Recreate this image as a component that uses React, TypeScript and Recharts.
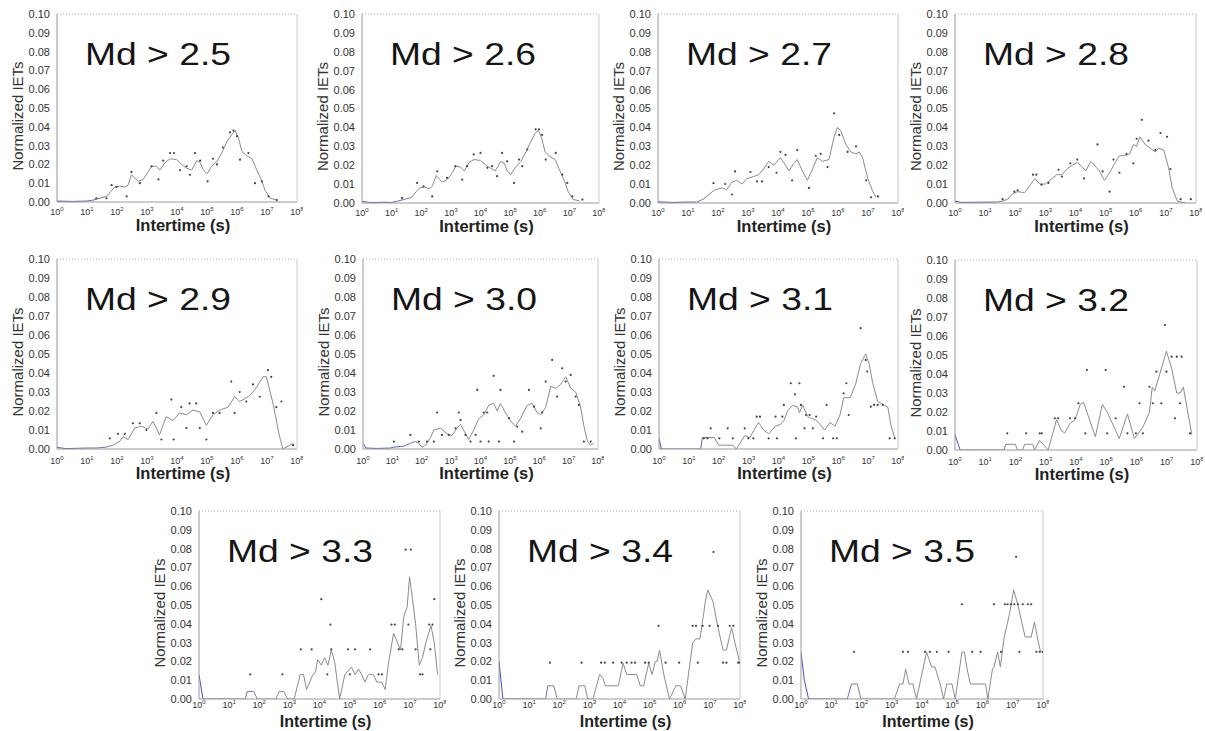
import { ComposedChart, Line, ReferenceLine, Scatter, XAxis, YAxis } from "recharts";

type Pair = [number, number];

const FONT = "'Liberation Sans', Arial, Helvetica, sans-serif";

// x values are log10 of the intertime in seconds (0 -> 10^0 s, 8 -> 10^8 s)
const X_TICKS = [0, 1, 2, 3, 4, 5, 6, 7, 8];
const Y_TICKS = [0, 0.01, 0.02, 0.03, 0.04, 0.05, 0.06, 0.07, 0.08, 0.09, 0.1];

const TITLES = [
  "Md > 2.5", "Md > 2.6", "Md > 2.7", "Md > 2.8",
  "Md > 2.9", "Md > 3.0", "Md > 3.1", "Md > 3.2",
  "Md > 3.3", "Md > 3.4", "Md > 3.5",
];

// smoothed curve per magnitude threshold
const LINE_25: Pair[] = [
  [0, 0.0005], [0.5, 0.0003], [1, 0.0005], [1.2, 0.001], [1.43, 0.002], [1.65, 0.003], [1.82, 0.006],
  [1.93, 0.008], [2.09, 0.0085], [2.26, 0.008], [2.37, 0.009], [2.48, 0.0145], [2.71, 0.011], [2.87, 0.012],
  [3.04, 0.016], [3.15, 0.019], [3.32, 0.019], [3.43, 0.017], [3.6, 0.021], [3.77, 0.023], [3.99, 0.0225],
  [4.16, 0.02], [4.32, 0.018], [4.49, 0.017], [4.66, 0.022], [4.77, 0.021], [4.88, 0.017], [5.0, 0.015],
  [5.16, 0.019], [5.35, 0.022], [5.49, 0.026], [5.66, 0.032], [5.83, 0.036], [5.94, 0.038], [6.05, 0.034],
  [6.16, 0.027], [6.33, 0.0245], [6.5, 0.023], [6.66, 0.017], [6.83, 0.011], [6.94, 0.006], [7.11, 0.002],
  [7.33, 0.001],
];
const LINE_26: Pair[] = [
  [0, 0.0008], [0.3, 0.0002], [0.7, 0.0004], [1, 0.0003], [1.2, 0.001], [1.45, 0.002], [1.67, 0.003],
  [1.83, 0.006], [1.95, 0.008], [2.1, 0.0085], [2.27, 0.0075], [2.38, 0.009], [2.5, 0.0145], [2.72, 0.011],
  [2.88, 0.0125], [3.05, 0.016], [3.17, 0.0195], [3.33, 0.019], [3.45, 0.017], [3.62, 0.0215], [3.78, 0.023],
  [4.0, 0.0225], [4.18, 0.02], [4.34, 0.0185], [4.5, 0.017], [4.68, 0.022], [4.8, 0.021], [4.9, 0.017],
  [5.02, 0.015], [5.18, 0.019], [5.36, 0.022], [5.5, 0.026], [5.68, 0.032], [5.85, 0.037], [5.96, 0.0385],
  [6.07, 0.034], [6.18, 0.027], [6.35, 0.0245], [6.52, 0.023], [6.68, 0.017], [6.85, 0.011], [6.96, 0.006],
  [7.12, 0.002], [7.35, 0.001],
];
const LINE_27: Pair[] = [
  [0, 0.0006], [0.5, 0.0003], [1, 0.0005], [1.29, 0.0005], [1.51, 0.002], [1.73, 0.005], [1.9, 0.007],
  [2.13, 0.008], [2.29, 0.007], [2.46, 0.011], [2.63, 0.012], [2.8, 0.01], [2.96, 0.013], [3.19, 0.014],
  [3.36, 0.015], [3.52, 0.018], [3.69, 0.022], [3.86, 0.02], [4.08, 0.024], [4.25, 0.02], [4.36, 0.017],
  [4.53, 0.021], [4.64, 0.023], [4.81, 0.017], [4.98, 0.012], [5.15, 0.018], [5.31, 0.024], [5.48, 0.022],
  [5.7, 0.023], [5.87, 0.035], [5.98, 0.04], [6.1, 0.038], [6.26, 0.031], [6.43, 0.027], [6.6, 0.026],
  [6.71, 0.027], [6.82, 0.024], [6.99, 0.013], [7.16, 0.006], [7.27, 0.003],
];
const LINE_28: Pair[] = [
  [0, 0.001], [0.2, 0.0003], [0.7, 0.0004], [1.2, 0.0005], [1.41, 0.0005], [1.58, 0.001], [1.75, 0.002],
  [1.92, 0.005], [2.08, 0.006], [2.31, 0.0055], [2.48, 0.009], [2.65, 0.013], [2.82, 0.01], [2.99, 0.01],
  [3.15, 0.012], [3.38, 0.015], [3.55, 0.015], [3.72, 0.018], [3.89, 0.02], [4.06, 0.0215], [4.23, 0.019],
  [4.34, 0.017], [4.51, 0.022], [4.68, 0.019], [4.79, 0.017], [4.96, 0.012], [5.13, 0.016], [5.3, 0.021],
  [5.46, 0.025], [5.63, 0.025], [5.8, 0.026], [5.92, 0.031], [6.03, 0.03], [6.14, 0.035], [6.31, 0.031],
  [6.48, 0.029], [6.65, 0.027], [6.76, 0.029], [6.93, 0.028], [7.1, 0.018], [7.21, 0.008], [7.38, 0.001],
  [7.66, 0],
];
const LINE_29: Pair[] = [
  [0, 0.0008], [0.3, 0.0002], [1, 0.0005], [1.31, 0.0005], [1.64, 0.001], [1.87, 0.002], [2.09, 0.004],
  [2.2, 0.0065], [2.37, 0.005], [2.59, 0.011], [2.81, 0.012], [3.03, 0.0105], [3.2, 0.0145], [3.42, 0.0075],
  [3.64, 0.017], [3.87, 0.015], [4.09, 0.019], [4.31, 0.018], [4.53, 0.0205], [4.76, 0.0195], [4.98, 0.0125],
  [5.2, 0.018], [5.42, 0.0205], [5.7, 0.022], [5.92, 0.0275], [6.09, 0.025], [6.37, 0.0275], [6.59, 0.031],
  [6.87, 0.038], [6.98, 0.038], [7.2, 0.024], [7.42, 0.0065], [7.53, 0], [7.87, 0.003],
];
const LINE_30: Pair[] = [
  [0, 0.003], [0.1, 0.0005], [0.5, 0.0003], [0.93, 0.0005], [1.05, 0.001], [1.39, 0.0015], [1.61, 0.003],
  [1.78, 0.004], [1.9, 0.003], [2.01, 0.001], [2.13, 0.002], [2.3, 0.006], [2.41, 0.01], [2.64, 0.011],
  [2.86, 0.008], [3.03, 0.007], [3.2, 0.011], [3.32, 0.013], [3.49, 0.008], [3.6, 0.005], [3.77, 0.01],
  [3.94, 0.016], [4.11, 0.018], [4.28, 0.023], [4.45, 0.024], [4.57, 0.02], [4.68, 0.024], [4.85, 0.019],
  [5.02, 0.015], [5.19, 0.012], [5.36, 0.016], [5.59, 0.023], [5.76, 0.024], [5.93, 0.019], [6.05, 0.018],
  [6.22, 0.022], [6.39, 0.033], [6.56, 0.032], [6.73, 0.034], [6.9, 0.038], [7.07, 0.032], [7.24, 0.03],
  [7.41, 0.022], [7.52, 0.012], [7.64, 0.004], [7.75, 0.002], [7.86, 0.003],
];
const LINE_31: Pair[] = [
  [0, 0.0055], [0.08, 0], [1.4, 0], [1.45, 0.006], [1.85, 0.006], [2.0, 0.002], [2.47, 0.002], [2.59, 0],
  [2.87, 0.007], [3.04, 0.006], [3.33, 0.014], [3.5, 0.01], [3.67, 0.008], [3.9, 0.012], [4.07, 0.013],
  [4.18, 0.015], [4.3, 0.02], [4.47, 0.023], [4.64, 0.022], [4.7, 0.019], [4.81, 0.023], [4.98, 0.017],
  [5.27, 0.015], [5.44, 0.012], [5.55, 0.01], [5.72, 0.014], [5.89, 0.012], [6.06, 0.018], [6.18, 0.027],
  [6.4, 0.027], [6.58, 0.034], [6.75, 0.045], [6.92, 0.05], [7.03, 0.045], [7.15, 0.035], [7.32, 0.025],
  [7.54, 0.023], [7.66, 0.022], [7.77, 0.012], [7.89, 0.006],
];
const LINE_32: Pair[] = [
  [0, 0.008], [0.17, 0], [1.62, 0], [1.68, 0.003], [2.0, 0.003], [2.06, 0], [2.24, 0], [2.3, 0.003],
  [2.57, 0.003], [2.63, 0], [2.8, 0.005], [3.08, 0], [3.36, 0.016], [3.52, 0.01], [3.63, 0.009], [3.8, 0.014],
  [3.97, 0.016], [4.14, 0.024], [4.25, 0.025], [4.64, 0.007], [4.87, 0.024], [5.03, 0.02], [5.43, 0.006],
  [5.7, 0.019], [5.93, 0.006], [6.21, 0.012], [6.43, 0.02], [6.52, 0.033], [6.6, 0.031], [6.77, 0.04],
  [6.99, 0.052], [7.16, 0.043], [7.33, 0.03], [7.44, 0.03], [7.55, 0.033], [7.66, 0.023], [7.83, 0.008],
];
const LINE_33: Pair[] = [
  [0, 0.013], [0.13, 0], [1.54, 0], [1.6, 0.004], [1.82, 0.004], [1.93, 0], [2.55, 0], [2.66, 0.004],
  [2.82, 0.004], [2.94, 0], [3.16, 0], [3.36, 0.013], [3.47, 0.013], [3.57, 0.005], [3.78, 0.013],
  [3.86, 0.014], [3.94, 0.021], [4.06, 0.018], [4.17, 0.022], [4.28, 0.018], [4.39, 0.026], [4.5, 0.02],
  [4.67, 0], [4.84, 0.013], [5.06, 0.017], [5.18, 0.013], [5.29, 0.016], [5.4, 0.013], [5.51, 0.009],
  [5.62, 0.013], [5.79, 0.013], [5.9, 0.009], [6.07, 0.009], [6.18, 0.005], [6.3, 0.02], [6.46, 0.035],
  [6.69, 0.026], [6.8, 0.044], [6.91, 0.049], [6.99, 0.065], [7.19, 0.04], [7.31, 0.018], [7.42, 0.022],
  [7.53, 0.03], [7.7, 0.039], [7.81, 0.03], [7.92, 0.013],
];
const LINE_34: Pair[] = [
  [0, 0.02], [0.13, 0], [1.55, 0], [1.62, 0.007], [1.82, 0.007], [1.93, 0], [2.56, 0], [2.66, 0.007],
  [2.85, 0.007], [2.94, 0], [3.12, 0], [3.34, 0.013], [3.45, 0.011], [3.53, 0.007], [3.96, 0.007],
  [4.12, 0.019], [4.24, 0.013], [4.57, 0.013], [4.69, 0.007], [4.8, 0.007], [4.97, 0.019], [5.08, 0.013],
  [5.19, 0.02], [5.25, 0.02], [5.33, 0.026], [5.47, 0.013], [5.66, 0], [5.87, 0.007], [6.03, 0.007],
  [6.18, 0], [6.43, 0.03], [6.54, 0.032], [6.67, 0.032], [6.79, 0.045], [6.85, 0.052], [6.93, 0.058],
  [7.1, 0.052], [7.27, 0.038], [7.44, 0.026], [7.55, 0.026], [7.72, 0.038], [7.83, 0.03], [7.98, 0.02],
];
const LINE_35: Pair[] = [
  [0, 0.025], [0.11, 0.01], [0.25, 0], [1.53, 0], [1.67, 0.008], [1.86, 0.008], [1.98, 0], [3.09, 0],
  [3.26, 0.008], [3.37, 0.008], [3.46, 0.016], [3.57, 0.008], [3.7, 0.008], [3.82, 0], [4.15, 0.025],
  [4.32, 0.017], [4.43, 0.017], [4.6, 0.008], [4.71, 0], [4.82, 0.008], [4.99, 0.008], [5.1, 0],
  [5.32, 0.025], [5.4, 0.025], [5.49, 0.016], [5.6, 0.008], [6.1, 0.008], [6.18, 0], [6.33, 0.016],
  [6.38, 0.017], [6.5, 0.025], [6.59, 0.017], [6.72, 0.033], [6.89, 0.045], [7.03, 0.058], [7.17, 0.05],
  [7.28, 0.042], [7.41, 0.033], [7.61, 0.033], [7.72, 0.041], [7.81, 0.033], [7.92, 0.025], [8, 0.025],
];

// raw normalized counts per bin
const DOTS_25: Pair[] = [
  [1.31, 0.002], [1.65, 0.002], [1.82, 0.009], [1.98, 0.008], [2.32, 0.003], [2.48, 0.016], [2.76, 0.01],
  [3.15, 0.019], [3.38, 0.012], [3.54, 0.022], [3.77, 0.026], [3.9, 0.026], [4.1, 0.017], [4.32, 0.019],
  [4.43, 0.0145], [4.6, 0.026], [4.77, 0.022], [5.02, 0.011], [5.2, 0.023], [5.33, 0.02], [5.53, 0.029],
  [5.77, 0.037], [5.88, 0.038], [6.0, 0.035], [6.1, 0.0225], [6.38, 0.026], [6.6, 0.01], [6.83, 0.011],
  [7.05, 0.003], [7.33, 0.001],
];
const DOTS_26: Pair[] = [
  [1.35, 0.0027], [1.86, 0.0106], [2.08, 0.0088], [2.37, 0.0035], [2.54, 0.0168], [2.87, 0.0133],
  [3.15, 0.0195], [3.38, 0.0124], [3.55, 0.0195], [3.77, 0.0257], [4.0, 0.0265], [4.23, 0.0186],
  [4.39, 0.0195], [4.56, 0.0142], [4.73, 0.0265], [4.9, 0.0221], [5.13, 0.0106], [5.3, 0.023],
  [5.41, 0.0195], [5.58, 0.0283], [5.86, 0.039], [5.97, 0.039], [6.08, 0.036], [6.2, 0.023], [6.54, 0.0265],
  [6.76, 0.015], [6.93, 0.0106], [7.1, 0.0035], [7.44, 0.0018],
];
const DOTS_27: Pair[] = [
  [1.85, 0.0105], [2.24, 0.01], [2.46, 0.0045], [2.57, 0.0167], [3.08, 0.0164], [3.3, 0.0114], [3.47, 0.0114],
  [3.69, 0.019], [3.95, 0.016], [4.08, 0.027], [4.25, 0.0255], [4.47, 0.012], [4.64, 0.028], [5.03, 0.008],
  [5.26, 0.025], [5.42, 0.026], [5.65, 0.019], [5.87, 0.0475], [6.04, 0.036], [6.32, 0.027], [6.6, 0.03],
  [6.94, 0.012], [7.1, 0.003], [7.33, 0.0035],
];
const DOTS_28: Pair[] = [
  [1.58, 0.002], [1.97, 0.006], [2.08, 0.0067], [2.59, 0.015], [2.7, 0.015], [2.87, 0.0097], [3.1, 0.0106],
  [3.44, 0.0176], [3.55, 0.014], [3.83, 0.021], [4.06, 0.023], [4.28, 0.013], [4.73, 0.031], [4.9, 0.0167],
  [5.13, 0.006], [5.26, 0.023], [5.46, 0.016], [5.69, 0.026], [5.92, 0.021], [6.03, 0.034], [6.2, 0.044],
  [6.42, 0.033], [6.65, 0.028], [6.82, 0.037], [7.04, 0.035], [7.15, 0.018], [7.49, 0.002], [7.83, 0.002],
];
const DOTS_29: Pair[] = [
  [1.76, 0.0056], [2.03, 0.008], [2.26, 0.008], [2.53, 0.0135], [2.76, 0.0135], [2.98, 0.01], [3.31, 0.019],
  [3.48, 0.005], [3.81, 0.026], [3.89, 0.005], [4.14, 0.022], [4.31, 0.011], [4.42, 0.024], [4.64, 0.024],
  [4.76, 0.011], [4.98, 0.005], [5.2, 0.019], [5.42, 0.019], [5.81, 0.0355], [5.92, 0.019], [6.09, 0.03],
  [6.31, 0.025], [6.53, 0.034], [6.76, 0.0275], [7.03, 0.0415], [7.14, 0.038], [7.31, 0.022], [7.48, 0.025],
  [7.87, 0.002],
];
const DOTS_30: Pair[] = [
  [1.05, 0.0039], [1.61, 0.0074], [1.9, 0.0039], [2.18, 0.0039], [2.41, 0.0039], [2.52, 0.0192],
  [2.69, 0.0074], [2.92, 0.0074], [3.15, 0.0109], [3.26, 0.0192], [3.32, 0.0153], [3.49, 0.0074],
  [3.66, 0.0039], [3.83, 0.0074], [3.89, 0.0311], [4.0, 0.0039], [4.11, 0.0192], [4.23, 0.0192],
  [4.28, 0.0039], [4.45, 0.0385], [4.63, 0.0039], [4.68, 0.0311], [4.97, 0.0162], [5.14, 0.0039],
  [5.25, 0.0118], [5.42, 0.0091], [5.65, 0.0311], [5.82, 0.0223], [6.05, 0.0109], [6.1, 0.0193],
  [6.22, 0.0355], [6.44, 0.0469], [6.61, 0.0276], [6.78, 0.0425], [6.9, 0.0355], [7.07, 0.039],
  [7.24, 0.0276], [7.35, 0.0232], [7.52, 0.0039], [7.75, 0.0039],
];
const DOTS_31: Pair[] = [
  [1.5, 0.0056], [1.62, 0.0056], [1.73, 0.0109], [2.02, 0.0056], [2.3, 0.0109], [2.47, 0.0056], [2.87, 0.0109],
  [2.99, 0.0056], [3.16, 0.0056], [3.27, 0.017], [3.38, 0.017], [3.67, 0.0056], [3.9, 0.017], [3.95, 0.0056],
  [4.13, 0.017], [4.18, 0.0232], [4.41, 0.0346], [4.55, 0.0288], [4.7, 0.0346], [4.58, 0.0056], [4.75, 0.0232],
  [4.87, 0.0109], [4.92, 0.0179], [5.04, 0.0179], [5.15, 0.0109], [5.26, 0.017], [5.49, 0.0056], [5.61, 0.0232],
  [5.83, 0.0056], [5.95, 0.0056], [6.18, 0.0293], [6.27, 0.0346], [6.35, 0.0179], [6.75, 0.0636],
  [6.92, 0.0469], [6.97, 0.0408], [7.09, 0.0223], [7.2, 0.0232], [7.32, 0.0232], [7.49, 0.0232],
  [7.72, 0.0056], [7.89, 0.0056],
];
const DOTS_32: Pair[] = [
  [1.73, 0.0088], [2.35, 0.0088], [2.8, 0.0088], [2.87, 0.0088], [3.3, 0.0167], [3.41, 0.0167], [3.8, 0.0167],
  [3.97, 0.0167], [4.08, 0.0246], [4.31, 0.0088], [4.36, 0.0421], [4.98, 0.0421], [5.03, 0.0088],
  [5.31, 0.0167], [5.59, 0.0333], [5.7, 0.0088], [5.98, 0.0088], [6.1, 0.0246], [6.21, 0.0088], [6.43, 0.0333],
  [6.54, 0.0246], [6.66, 0.0412], [6.82, 0.0246], [6.94, 0.0658], [6.99, 0.0412], [7.16, 0.0491],
  [7.33, 0.0491], [7.49, 0.0491], [7.27, 0.0167], [7.44, 0.0246], [7.77, 0.0088],
];
const DOTS_33: Pair[] = [
  [1.7, 0.0131], [2.77, 0.0131], [3.38, 0.0264], [3.74, 0.0264], [4.06, 0.0531], [4.36, 0.0396],
  [4.39, 0.0264], [4.26, 0.0131], [4.95, 0.0264], [5.18, 0.0264], [5.01, 0.0131], [5.68, 0.0264],
  [5.96, 0.0131], [6.07, 0.0131], [6.39, 0.0396], [6.5, 0.0396], [6.63, 0.0264], [6.75, 0.0264],
  [6.86, 0.0795], [7.03, 0.0795], [6.95, 0.0396], [7.19, 0.0264], [7.34, 0.0131], [7.42, 0.0131],
  [7.64, 0.0396], [7.75, 0.0396], [7.68, 0.0264], [7.81, 0.0531],
];
const DOTS_34: Pair[] = [
  [1.69, 0.0193], [2.74, 0.0193], [3.39, 0.0193], [3.51, 0.0193], [3.79, 0.0193], [4.07, 0.0193],
  [4.24, 0.0193], [4.4, 0.0193], [4.52, 0.0193], [4.85, 0.0193], [4.97, 0.0193], [5.3, 0.0389],
  [5.53, 0.0193], [5.98, 0.0193], [6.43, 0.0389], [6.54, 0.0389], [6.6, 0.0193], [6.76, 0.0389],
  [6.99, 0.0389], [7.12, 0.0782], [7.27, 0.0389], [7.44, 0.0193], [7.55, 0.0193], [7.66, 0.0389],
  [7.78, 0.0389], [7.94, 0.0193], [8, 0.0193],
];
const DOTS_35: Pair[] = [
  [1.75, 0.0251], [3.37, 0.0251], [3.54, 0.0251], [4.1, 0.0251], [4.26, 0.0251], [4.49, 0.0251],
  [4.88, 0.0251], [5.32, 0.0504], [5.66, 0.0251], [5.94, 0.0251], [6.38, 0.0504], [6.61, 0.0251],
  [6.74, 0.0504], [6.83, 0.0504], [6.94, 0.0504], [7.05, 0.0504], [7.11, 0.0756], [7.17, 0.0504],
  [7.22, 0.0251], [7.33, 0.0504], [7.5, 0.0504], [7.61, 0.0504], [7.78, 0.0251], [7.89, 0.0251],
  [8, 0.0251],
];

const LINES = [LINE_25, LINE_26, LINE_27, LINE_28, LINE_29, LINE_30, LINE_31, LINE_32, LINE_33, LINE_34, LINE_35];
const DOTS = [DOTS_25, DOTS_26, DOTS_27, DOTS_28, DOTS_29, DOTS_30, DOTS_31, DOTS_32, DOTS_33, DOTS_34, DOTS_35];

// plot-area boxes on the page, in px
const LAYOUT = [
  { left: 57, top: 14, width: 240, height: 188, row: 0 },
  { left: 362, top: 14, width: 237, height: 189, row: 0 },
  { left: 658, top: 14, width: 240, height: 189, row: 0 },
  { left: 955, top: 14, width: 241, height: 189, row: 0 },
  { left: 57, top: 259, width: 240, height: 190, row: 1 },
  { left: 363, top: 259, width: 235, height: 190, row: 1 },
  { left: 659, top: 259, width: 239, height: 190, row: 1 },
  { left: 955, top: 260, width: 242, height: 190, row: 1 },
  { left: 199, top: 511, width: 241, height: 188, row: 2 },
  { left: 499, top: 511, width: 241, height: 188, row: 2 },
  { left: 801, top: 511, width: 242, height: 188, row: 2 },
];
const ROW_OFFSETS = [
  { tick: 13, label: 29, labelSize: 16.5 },
  { tick: 15, label: 30, labelSize: 16.5 },
  { tick: 9, label: 28, labelSize: 16 },
];
const PAD = { top: 6, right: 6, left: 55, bottom: 30 };

const toPoints = (pairs: Pair[]) => pairs.map(([x, y]) => ({ x, y }));

function PowerTick({ x, y, payload, dy }: any) {
  return (
    <text x={x} y={y + dy} textAnchor="middle" fontSize={9} fill="#333" fontFamily={FONT}>
      10
      <tspan dy={-4} fontSize={6}>
        {payload.value}
      </tspan>
    </text>
  );
}

const renderDot = (p: any) => <circle cx={p.cx} cy={p.cy} r={1.1} fill="#444" />;

function Panel({ index }: { index: number }) {
  const box = LAYOUT[index];
  const gradId = `iet-line-${index}`;
  return (
    <div style={{ position: "absolute", left: box.left - PAD.left, top: box.top - PAD.top }}>
      <ComposedChart
        width={box.width + PAD.left + PAD.right}
        height={box.height + PAD.top + PAD.bottom}
        margin={{ top: PAD.top, right: PAD.right, left: 0, bottom: 0 }}
      >
        <defs>
          <linearGradient id={gradId} x1="0" y1="0" x2="1" y2="0">
            <stop offset="0" stopColor="#3a4fc4" />
            <stop offset="0.15" stopColor="#5563b8" />
            <stop offset="0.26" stopColor="#8a8b98" />
            <stop offset="1" stopColor="#8a8a8e" />
          </linearGradient>
        </defs>
        <XAxis
          type="number"
          dataKey="x"
          domain={[0, 8]}
          ticks={X_TICKS}
          interval={0}
          height={PAD.bottom}
          allowDataOverflow
          tickLine={false}
          tickSize={0}
          tickMargin={0}
          axisLine={{ stroke: "#9a9a9a" }}
          tick={(p: any) => <PowerTick {...p} dy={ROW_OFFSETS[box.row].tick} />}
        />
        <YAxis
          type="number"
          domain={[0, 0.1]}
          ticks={Y_TICKS}
          interval={0}
          width={PAD.left}
          allowDataOverflow
          tickLine={false}
          tickSize={0}
          tickMargin={7}
          axisLine={{ stroke: "#9a9a9a" }}
          tick={{ fontSize: 11, fill: "#333", fontFamily: FONT }}
          tickFormatter={(v: number) => v.toFixed(2)}
        />
        <YAxis
          yAxisId="frame"
          orientation="right"
          mirror
          type="number"
          domain={[0, 0.1]}
          ticks={Y_TICKS}
          interval={0}
          tick={false}
          tickSize={3}
          axisLine={{ stroke: "#c8c8c8" }}
          tickLine={{ stroke: "#b8b8b8" }}
        />
        <ReferenceLine y={0.1} stroke="#a8a8a8" strokeDasharray="1 2" />
        <Line
          data={toPoints(LINES[index])}
          dataKey="y"
          type="linear"
          stroke={`url(#${gradId})`}
          strokeWidth={1}
          dot={false}
          activeDot={false}
          isAnimationActive={false}
        />
        <Scatter data={toPoints(DOTS[index])} dataKey="y" shape={renderDot} isAnimationActive={false} />
      </ComposedChart>
    </div>
  );
}

export default function App() {
  return (
    <div
      style={{
        position: "absolute",
        left: 0,
        top: 0,
        width: 1205,
        height: 731,
        background: "#fff",
        overflow: "hidden",
      }}
    >
      {LAYOUT.map((_, i) => (
        <Panel key={TITLES[i]} index={i} />
      ))}
      <svg
        width={1205}
        height={731}
        style={{ position: "absolute", left: 0, top: 0, pointerEvents: "none" }}
        fontFamily={FONT}
      >
        {LAYOUT.map((b, i) => (
          <g key={TITLES[i]}>
            <text
              x={b.left + 28}
              y={b.top + 51}
              fontSize={31}
              textLength={146}
              lengthAdjust="spacingAndGlyphs"
              fill="#151515"
            >
              {TITLES[i]}
            </text>
            <text
              transform={`translate(${b.left - 40}, ${b.top + b.height / 2 + 8}) rotate(-90)`}
              textAnchor="middle"
              dominantBaseline="central"
              fontSize={15}
              fill="#333"
            >
              Normalized IETs
            </text>
            <text
              x={b.left + b.width / 2 + 6}
              y={b.top + b.height + ROW_OFFSETS[b.row].label}
              textAnchor="middle"
              fontSize={ROW_OFFSETS[b.row].labelSize}
              fontWeight="bold"
              fill="#222"
            >
              Intertime (s)
            </text>
          </g>
        ))}
      </svg>
    </div>
  );
}
